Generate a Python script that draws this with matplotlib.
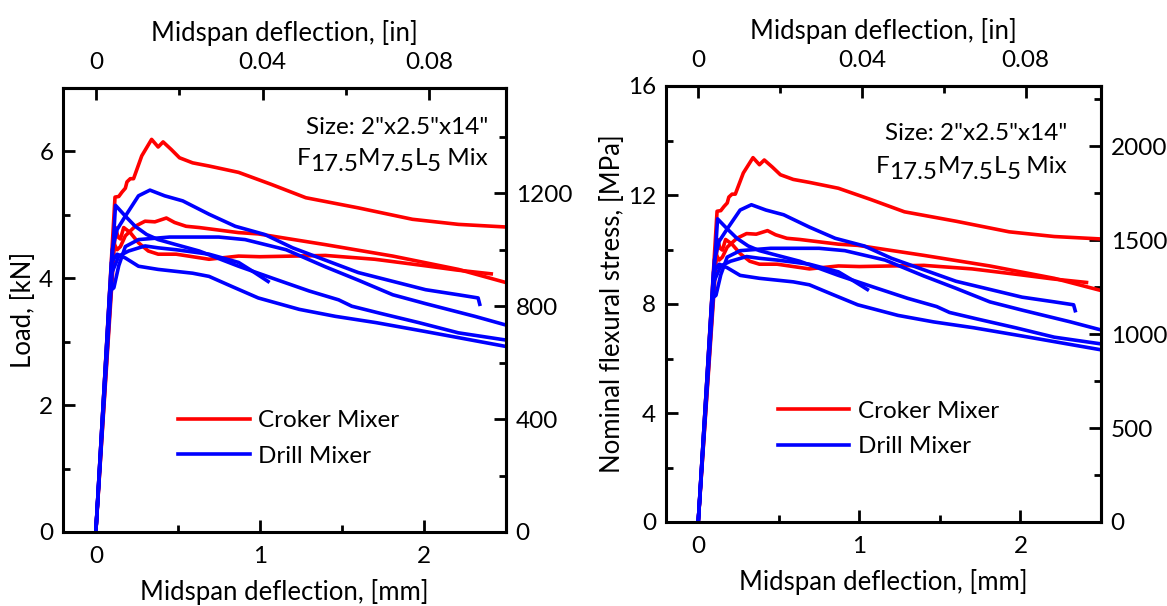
import matplotlib.pyplot as plt
from matplotlib.ticker import MultipleLocator

plt.rcParams['font.family'] = ['Lato', 'DejaVu Sans']

# Croker mixer beams: midspan deflection [mm], load [kN]
croker_1_d = [0, 0.117, 0.14, 0.16, 0.18, 0.19, 0.21, 0.23, 0.28, 0.34, 0.38, 0.41, 0.46, 0.51,
              0.59, 0.69, 0.87, 1.07, 1.28, 1.60, 1.93, 2.21, 2.49]
croker_1_p = [0, 5.28, 5.29, 5.36, 5.42, 5.52, 5.57, 5.57, 5.93, 6.19, 6.07, 6.15, 6.03, 5.90,
              5.82, 5.77, 5.67, 5.48, 5.27, 5.11, 4.93, 4.85, 4.81]
croker_2_d = [0, 0.11, 0.13, 0.15, 0.18, 0.24, 0.30, 0.36, 0.43, 0.48, 0.55, 0.63, 0.87, 0.99,
              1.40, 1.81, 2.21, 2.49]
croker_2_p = [0, 4.55, 4.45, 4.50, 4.67, 4.82, 4.90, 4.89, 4.95, 4.88, 4.82, 4.80, 4.72, 4.70,
              4.53, 4.35, 4.14, 3.94]
croker_3_d = [0, 0.12, 0.135, 0.15, 0.17, 0.21, 0.26, 0.32, 0.38, 0.49, 0.69, 0.87, 1.0, 1.4,
              1.7, 2.0, 2.2, 2.41]
croker_3_p = [0, 4.80, 4.65, 4.62, 4.80, 4.72, 4.56, 4.43, 4.38, 4.38, 4.30, 4.35, 4.34, 4.36,
              4.30, 4.20, 4.13, 4.07]

# Drill mixer beams
drill_1_d = [0, 0.10, 0.13, 0.18, 0.26, 0.33, 0.42, 0.53, 0.69, 0.85, 1.03, 1.20, 1.60, 2.01,
             2.21, 2.33, 2.34]
drill_1_p = [0, 4.45, 4.77, 4.98, 5.30, 5.39, 5.30, 5.22, 5.01, 4.82, 4.69, 4.48, 4.09, 3.82,
             3.74, 3.69, 3.59]
drill_2_d = [0, 0.12, 0.18, 0.24, 0.31, 0.38, 0.49, 0.63, 0.87, 1.10, 1.30, 1.48, 1.56, 1.73,
             1.97, 2.21, 2.49]
drill_2_p = [0, 5.15, 4.98, 4.82, 4.69, 4.61, 4.53, 4.43, 4.19, 3.98, 3.80, 3.66, 3.56, 3.45,
             3.30, 3.14, 3.03]
drill_3_d = [0, 0.10, 0.14, 0.20, 0.30, 0.38, 0.49, 0.69, 0.87, 0.95, 1.05]
drill_3_p = [0, 4.10, 4.35, 4.43, 4.51, 4.48, 4.45, 4.38, 4.25, 4.12, 3.95]
drill_4_d = [0, 0.085, 0.11, 0.14, 0.18, 0.26, 0.45, 0.75, 0.91, 1.16, 1.40, 1.60, 1.81, 2.01,
             2.31, 2.49]
drill_4_p = [0, 3.80, 3.85, 4.20, 4.50, 4.61, 4.65, 4.65, 4.61, 4.45, 4.18, 3.97, 3.74, 3.60,
             3.40, 3.27]
drill_5_d = [0, 0.095, 0.13, 0.18, 0.26, 0.38, 0.59, 0.69, 0.83, 0.99, 1.24, 1.46, 1.71, 2.01,
             2.49]
drill_5_p = [0, 4.25, 4.38, 4.32, 4.19, 4.14, 4.08, 4.03, 3.87, 3.69, 3.51, 3.40, 3.30, 3.16,
             2.93]

croker = [(croker_1_d, croker_1_p), (croker_2_d, croker_2_p), (croker_3_d, croker_3_p)]
drill = [(drill_1_d, drill_1_p), (drill_2_d, drill_2_p), (drill_3_d, drill_3_p),
         (drill_4_d, drill_4_p), (drill_5_d, drill_5_p)]

# nominal flexural stress per unit load for the 2"x2.5"x14" beams [MPa/kN]
STRESS_PER_KN = 2.16

RED = '#ff0000'
BLUE = '#0000ff'
LW = 2.6
TICK_FS = 17.5
LABEL_FS = 18.5
SUB_SHIFT = 4.5  # points


def style_ticks(axis_obj, pad=7):
    axis_obj.tick_params(which='both', direction='in', width=2, labelsize=TICK_FS, pad=pad)
    axis_obj.tick_params(which='major', length=8.5)
    axis_obj.tick_params(which='minor', length=5)


def mix_label(ax, x, y):
    # F17.5 M7.5 L5 Mix, drawn piece by piece from the right
    parts = [('F', 0), ('17.5', -1), ('M', 0), ('7.5', -1), ('L', 0), ('5', -1), (' Mix', 0)]
    prev = ax.text(x, y, parts[-1][0], transform=ax.transAxes, ha='right', va='baseline',
                   fontsize=TICK_FS)
    level = parts[-1][1]
    for s, lv in reversed(parts[:-1]):
        prev = ax.annotate(s, xy=(0, 0), xycoords=prev, xytext=(0, (lv - level) * SUB_SHIFT),
                           textcoords='offset points', ha='right', va='bottom', fontsize=TICK_FS)
        level = lv


def draw_panel(ax, scale, ylim, ymajor, yminor, ylabel, to_imp, from_imp, imp_major, imp_minor,
               size_xy, mix_xy, leg_xy):
    for i, (d, p) in enumerate(croker):
        ax.plot(d, [v * scale for v in p], color=RED, lw=LW,
                label='Croker Mixer' if i == 0 else None)
    for i, (d, p) in enumerate(drill):
        ax.plot(d, [v * scale for v in p], color=BLUE, lw=LW,
                label='Drill Mixer' if i == 0 else None)

    ax.set_xlim(-0.2, 2.5)
    ax.set_ylim(*ylim)
    ax.xaxis.set_major_locator(MultipleLocator(1))
    ax.xaxis.set_minor_locator(MultipleLocator(0.5))
    ax.yaxis.set_major_locator(MultipleLocator(ymajor))
    ax.yaxis.set_minor_locator(MultipleLocator(yminor))
    ax.tick_params(top=False, right=False, which='both')
    style_ticks(ax)
    ax.tick_params(axis='x', pad=10)
    for sp in ax.spines.values():
        sp.set_linewidth(2.2)
    ax.set_xlabel('Midspan deflection, [mm]', fontsize=LABEL_FS, labelpad=9)
    ax.set_ylabel(ylabel, fontsize=LABEL_FS, labelpad=2.5)

    top = ax.secondary_xaxis('top', functions=(lambda x: x / 25.4, lambda x: x * 25.4))
    top.xaxis.set_major_locator(MultipleLocator(0.04))
    top.xaxis.set_minor_locator(MultipleLocator(0.02))
    top.xaxis.set_major_formatter(lambda v, pos: '0' if abs(v) < 1e-9 else f'{v:g}')
    style_ticks(top, pad=10.5)
    top.spines['top'].set_linewidth(2.2)
    top.set_xlabel('Midspan deflection, [in]', fontsize=LABEL_FS, labelpad=8)

    right = ax.secondary_yaxis('right', functions=(to_imp, from_imp))
    right.yaxis.set_major_locator(MultipleLocator(imp_major))
    right.yaxis.set_minor_locator(MultipleLocator(imp_minor))
    style_ticks(right)
    right.spines['right'].set_linewidth(2.2)

    ax.text(size_xy[0], size_xy[1], 'Size: 2"x2.5"x14"', transform=ax.transAxes,
            ha='right', va='center', fontsize=TICK_FS)
    mix_label(ax, *mix_xy)

    leg = ax.legend(loc='upper left', bbox_to_anchor=leg_xy, frameon=False, fontsize=TICK_FS,
                    handlelength=2.95, handletextpad=0.35, labelspacing=0.6,
                    borderpad=0, borderaxespad=0)
    for h in leg.get_lines():
        h.set_linewidth(LW)


fig = plt.figure(figsize=(11.67, 6.06), dpi=100)
ax1 = fig.add_axes([63 / 1167, 74 / 606, 443 / 1167, 444 / 606])
ax2 = fig.add_axes([666 / 1167, 84 / 606, 435 / 1167, 436 / 606])

draw_panel(ax1, 1.0, (0, 7), 2, 1, 'Load, [kN]',
           lambda x: x * 224.809, lambda x: x / 224.809, 400, 200,
           (0.959, 0.91), (0.959, 0.827), (0.26, 0.274))
draw_panel(ax2, STRESS_PER_KN, (0, 16), 4, 2, 'Nominal flexural stress, [MPa]',
           lambda x: x * 145.038, lambda x: x / 145.038, 500, 250,
           (0.922, 0.892), (0.922, 0.80), (0.257, 0.278))

fig.savefig('out.png', dpi=100)
